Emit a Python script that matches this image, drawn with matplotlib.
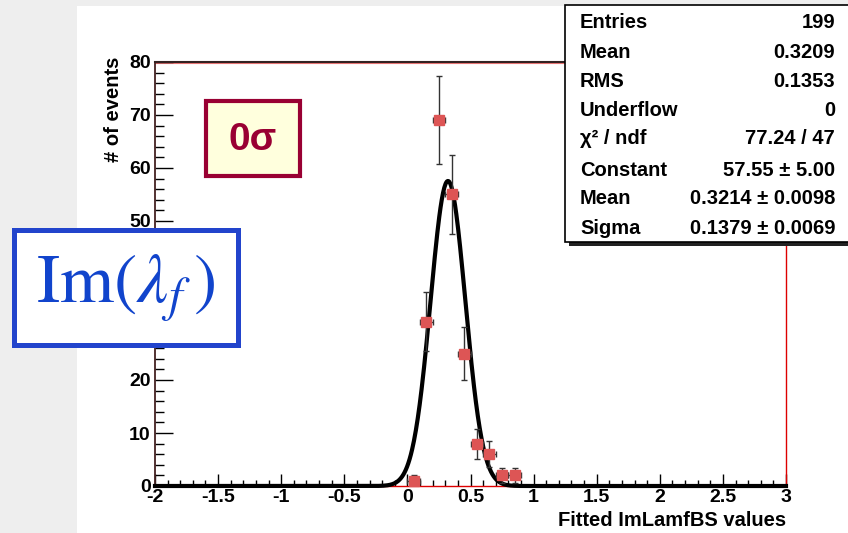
import numpy as np
from matplotlib import pyplot as plt
from matplotlib.patches import Rectangle
from matplotlib.ticker import MultipleLocator

# histogram content (bin centres, counts)
bin_centers = [0.05, 0.15, 0.25, 0.35, 0.45, 0.55, 0.65, 0.75, 0.85]
counts = [1, 31, 69, 55, 25, 8, 6, 2, 2]
bin_half = 0.05

# gaussian fit parameters
fit_const = 57.55
fit_mean = 0.3214
fit_sigma = 0.1379

stat_labels = ["Entries", "Mean", "RMS", "Underflow", "\u03c7\u00b2 / ndf",
               "Constant", "Mean", "Sigma"]
stat_values = ["199", "0.3209", "0.1353", "0", "77.24 / 47",
               "57.55 \u00b1 5.00", "0.3214 \u00b1 0.0098", "0.1379 \u00b1 0.0069"]

W, H = 848, 533
plt.rcParams['font.family'] = ['Liberation Sans', 'DejaVu Sans']
plt.rcParams['mathtext.fontset'] = 'stix'
fig = plt.figure(figsize=(W / 100, H / 100), dpi=100)
fig.patch.set_facecolor("#eeeeee")


def fx(px):
    return px / W


def fy(py):
    return 1 - py / H


# white canvas
fig.patches.append(Rectangle((fx(77), 0), 1, fy(6), transform=fig.transFigure,
                             facecolor="white", edgecolor="none", zorder=-5))

ax = fig.add_axes([fx(155), fy(486), fx(786) - fx(155), fy(62) - fy(486)])
ax.set_facecolor("white")
ax.set_xlim(-2, 3)
ax.set_ylim(0, 80)

ax.spines["right"].set_color("#dd0000")
ax.spines["bottom"].set_color("#dd0000")
ax.spines["right"].set_linewidth(1.0)
ax.spines["bottom"].set_linewidth(1.0)
ax.spines["top"].set_color("#332222")
ax.spines["top"].set_linewidth(1.5)
ax.spines["left"].set_color("#442222")
ax.spines["left"].set_linewidth(1.3)
# thin red frame line just inside the top edge
ax.axhline(79.75, color="#ee7777", lw=0.8, zorder=1)

ax.xaxis.set_major_locator(MultipleLocator(0.5))
ax.xaxis.set_minor_locator(MultipleLocator(0.1))
ax.yaxis.set_major_locator(MultipleLocator(10))
ax.yaxis.set_minor_locator(MultipleLocator(2))
ax.tick_params(axis="x", which="major", direction="in", length=9, width=1, color="black", pad=2)
ax.tick_params(axis="x", which="minor", direction="in", length=4.5, width=1, color="black")
ax.tick_params(axis="y", which="major", direction="in", length=13, width=1, color="black", pad=3)
ax.tick_params(axis="y", which="minor", direction="in", length=6.5, width=1, color="black")
ax.xaxis.set_major_formatter(plt.FuncFormatter(lambda v, p: "%g" % v))
ax.yaxis.set_major_formatter(plt.FuncFormatter(lambda v, p: "%g" % v))
for lab in ax.get_xticklabels() + ax.get_yticklabels():
    lab.set_fontweight("bold")
    lab.set_fontsize(14)

# fit curve
xs = np.linspace(-2, 3, 1000)
ax.plot(xs, fit_const * np.exp(-0.5 * ((xs - fit_mean) / fit_sigma) ** 2),
        color="black", lw=3, clip_on=False, zorder=3)

# data points
ax.errorbar(bin_centers, counts, xerr=bin_half, yerr=np.sqrt(counts), fmt="none",
            ecolor="#333333", elinewidth=1, capsize=2.5, zorder=4)
ax.plot(bin_centers, counts, "s", color="#dd5555", markersize=7, zorder=5, clip_on=False)

# axis titles
fig.text(fx(786), fy(521), "Fitted ImLamfBS values", ha="right", va="center",
         fontsize=14.5, fontweight="bold")
fig.text(fx(113), fy(57), "# of events", ha="center", va="top", rotation=90,
         fontsize=14.5, fontweight="bold")

# stats box
fig.patches.append(Rectangle((fx(569), fy(246)), 1, fy(9) - fy(246), transform=fig.transFigure,
                             facecolor="#222222", edgecolor="none", zorder=6))
fig.patches.append(Rectangle((fx(565), fy(242)), 1, fy(5) - fy(242), transform=fig.transFigure,
                             facecolor="white", edgecolor="black", lw=1.2, zorder=7))
row_y = [22, 52, 81, 110, 139, 170, 199, 228]
for yy, lab, val in zip(row_y, stat_labels, stat_values):
    fig.text(fx(580), fy(yy), lab, ha="left", va="center", fontsize=14.5,
             fontweight="bold", zorder=8)
    fig.text(fx(835), fy(yy), val, ha="right", va="center", fontsize=14.5,
             fontweight="bold", zorder=8)

# 0 sigma box
fig.patches.append(Rectangle((fx(206), fy(176)), fx(300) - fx(206), fy(101) - fy(176),
                             transform=fig.transFigure, facecolor="#ffffdd",
                             edgecolor="#990033", lw=3, zorder=8))
fig.text(fx(253), fy(140), "0\u03c3", ha="center", va="center", fontsize=28,
         fontweight="bold", color="#990033", zorder=9)

# Im(lambda_f) box
fig.patches.append(Rectangle((fx(14), fy(345)), fx(238) - fx(14), fy(230) - fy(345),
                             transform=fig.transFigure, facecolor="white",
                             edgecolor="#2244cc", lw=3.6, zorder=8))
fig.text(fx(126), fy(303), r"$\mathrm{Im}(\lambda_f\,)$", ha="center", va="baseline",
         fontsize=50, color="#1144cc", zorder=9)

fig.savefig("out.png", dpi=100, facecolor=fig.get_facecolor())
